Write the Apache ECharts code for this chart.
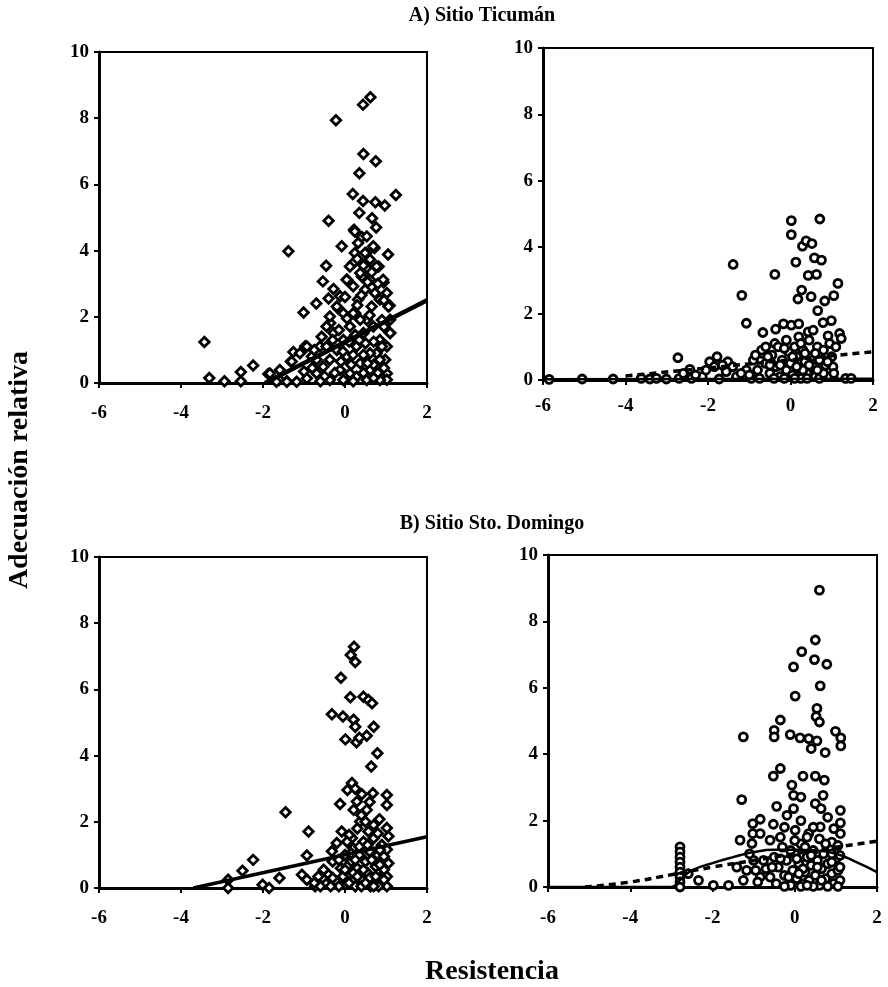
<!DOCTYPE html>
<html>
<head>
<meta charset="utf-8">
<script src="https://cdn.jsdelivr.net/npm/echarts@6/dist/echarts.min.js"></script>
<style>html,body{margin:0;padding:0;background:#fff}#c{width:888px;height:987px}</style>
</head>
<body>
<div id="c"></div>
<script>
// ---- Data ----
const xTicks = [-6, -4, -2, 0, 2];
const yTicks = [0, 2, 4, 6, 8, 10];
const titleA = 'A) Sitio Ticumán';
const titleB = 'B) Sitio Sto. Domingo';
const yName = 'Adecuación relativa';
const xName = 'Resistencia';

// A) Ticumán, left panel (diamonds)
const ticumanDiamonds = [
 [0.62,8.63],[0.44,8.41],[-0.22,7.94],[0.45,6.92],[0.75,6.70],[0.35,6.34],[0.19,5.71],[1.24,5.68],
 [0.44,5.50],[0.74,5.46],[0.97,5.36],[0.35,5.14],[0.66,4.98],[-0.40,4.90],[0.76,4.70],[0.22,4.63],
 [0.41,4.41],[-0.08,4.13],[-1.38,3.98],[1.05,3.88],[0.52,3.93],[0.72,4.08],[0.21,3.63],[0.82,3.52],
 [-0.46,3.54],[0.57,3.42],[0.94,3.04],[-0.54,3.07],[-0.28,2.84],[0.05,3.12],[0.41,3.22],[-0.40,2.55],
 [-0.70,2.40],[1.09,2.34],[-1.01,2.13],[-0.16,2.24],[0.25,2.11],[-0.36,1.81],[1.10,1.51],[-3.43,1.24],
 [-0.97,1.11],[-1.26,0.94],[-2.24,0.53],[-1.32,0.65],[-2.54,0.33],[-3.31,0.15],[-2.94,0.05],[-2.54,0.05],
 [-1.87,0.27],[-1.60,0.10],[-1.42,0.05],
 [-0.93,1.10],[-1.10,0.90],[-1.30,0.65],[-1.59,0.39],[-1.83,0.29],[-0.81,0.80],[-0.61,1.10],[-0.57,1.40],
 [-0.45,1.71],[-0.37,2.01],[-0.20,2.31],[-0.12,2.62],[0.04,3.12],[0.12,3.52],[0.24,3.93],[0.32,4.23],
 [0.24,4.58],[0.53,4.43],[0.69,4.13],[0.49,3.93],[0.77,3.52],[0.93,3.12],[1.02,2.72],[0.85,2.52],
 [1.06,2.31],[1.10,1.91],[1.10,1.51],[1.02,1.10],[0.98,0.70],[1.02,0.29],[1.02,0.10],[0.85,0.09],
 [0.61,3.12],[0.49,2.82],[0.32,2.52],[0.20,2.11],[0.12,1.71],[-0.04,1.30],[-0.20,1.00],[-0.37,0.70],
 [-0.53,0.49],[-0.69,0.29],[-0.93,0.14],[-1.18,0.04],[-1.42,0.04],[-1.67,0.04],[-0.37,0.09],[-0.12,0.39],
 [0.04,0.80],[0.28,1.10],[0.45,1.51],[0.53,1.91],[0.65,2.31],[0.73,2.72],[0.37,0.60],[0.61,0.39],
 [0.28,0.19],[-0.04,0.09],[0.53,0.09],[0.77,0.90],[0.85,1.30],[0.69,1.71],[0.37,3.32],[0.61,3.73],
 [0.20,2.92],[-0.04,2.11],[-0.28,1.51],[-0.45,1.10],[-0.69,0.70],[0.12,0.29],[0.37,1.91],[0.61,0.90],
 [0.85,0.70],[0.15,0.55],[0.45,0.85],[0.70,0.55],[0.25,1.45],[-0.10,0.65],[0.90,1.90],[0.00,2.60],
 [-0.25,0.30],[-0.50,0.20],[-0.80,0.45],[-1.00,0.35],[-0.15,1.60],[0.05,1.95],[0.30,2.35],[0.40,2.65],
 [0.55,3.05],[0.30,3.75],[0.45,3.55],[0.65,3.35],[0.80,3.00],[0.95,2.50],[0.95,1.70],[0.90,1.10],
 [0.70,1.25],[0.50,1.20],[0.20,0.85],[-0.05,0.95],[0.10,1.25],[0.35,1.30],[0.55,0.60],[0.80,0.30],
 [0.20,0.05],[0.45,0.30],[0.70,0.15],[-0.60,0.05],[-0.30,1.30],[-0.75,1.00],[0.95,0.45],[0.60,2.05]
];
const ticumanFit = [[-1.95, 0], [2, 2.5]];

// A) Ticumán, right panel (circles)
const ticumanCircles = [
 [-5.85,0.02],[-5.05,0.03],[-4.30,0.03],[-3.62,0.05],[-3.41,0.03],[-3.25,0.05],[-3.01,0.03],[-2.73,0.67],
 [-2.70,0.05],[-2.44,0.32],[-2.40,0.05],[-2.14,0.10],[-1.96,0.55],[-1.78,0.70],[-1.73,0.03],[-1.52,0.55],
 [-1.56,0.25],[-1.39,3.48],[-1.18,2.55],[-1.07,1.71],[-1.31,0.10],[-1.07,0.30],[-0.95,0.05],[-0.67,1.43],
 [-0.68,0.80],[-0.38,3.18],[-0.36,1.53],[-0.38,1.10],[-0.17,1.69],[0.02,4.80],[0.02,4.38],[0.13,3.55],
 [0.29,4.03],[0.38,4.19],[0.52,4.11],[0.71,4.85],[0.58,3.68],[0.75,3.61],[0.43,3.15],[0.63,3.18],
 [0.27,2.71],[0.18,2.44],[0.50,2.51],[0.66,2.09],[0.79,1.73],[0.83,2.38],[1.05,2.54],[1.15,2.91],
 [0.99,1.79],[0.91,1.33],[1.19,1.40],[1.23,1.25],[0.02,1.65],[0.20,1.69],[0.43,1.45],[1.34,0.05],
 [1.47,0.05],[1.03,0.10],[1.03,0.40],[0.79,0.60],
 [-0.9,0.6],[-0.8,0.3],[-0.7,0.9],[-0.6,0.5],[-0.5,0.2],[-0.45,0.75],[-0.35,0.4],[-0.3,1.0],[-0.25,0.1],
 [-0.2,0.6],[-0.1,0.3],[-0.05,0.85],[0,0.5],[0.05,0.15],[0.1,1.0],[0.15,0.7],[0.2,0.35],[0.25,0.05],
 [0.3,0.9],[0.35,0.55],[0.4,0.2],[0.45,1.2],[0.5,0.7],[0.55,0.4],[0.6,0.1],[0.65,1.0],[0.7,0.6],
 [0.75,0.25],[0.8,0.9],[0.85,0.45],[0.9,0.1],[0.95,1.1],[1.0,0.7],[1.05,0.2],[0.2,1.3],[-0.1,1.2],
 [0.55,1.5],[-0.6,1.0],[-1.2,0.2],[-1.0,0.15],[-0.15,0.05],[0.1,0.05],[0.4,0.05],[0.7,0.05],[-0.4,0.05],
 [-0.75,0.05],[-2.05,0.3],[-1.85,0.4],[-1.65,0.45],[-2.3,0.15],[-2.6,0.2],[-1.4,0.4],
 [-0.85,0.75],[-0.55,0.7],[-0.25,0.45],[0.05,0.7],[0.3,0.3],[0.6,0.8],[0.9,0.55],[0.25,1.1],[-0.15,0.95],
 [0.45,0.45],[0.8,0.2],[0.15,0.4],[-0.5,0.45],[0.65,0.3],[1.1,1.0],[0.35,0.8]
];
const ticumanSolid = [[-6, 0.02], [2, 0.04]];
const ticumanDashed = [[-4, 0.12], [2, 0.85]];

// B) Sto. Domingo, left panel (diamonds)
const domingoDiamonds = [
 [0.22,7.29],[0.14,7.04],[0.25,6.83],[-0.10,6.35],[0.13,5.76],[0.45,5.78],[0.57,5.68],[0.66,5.58],
 [-0.32,5.25],[-0.05,5.18],[0.21,5.08],[0.25,4.87],[0.70,4.87],[0.01,4.49],[0.28,4.40],[0.53,4.60],
 [0.35,4.54],[0.79,4.07],[0.64,3.67],[0.17,3.17],[0.06,2.96],[0.41,2.83],[0.68,2.86],[1.02,2.81],
 [1.02,2.51],[-0.12,2.54],[0.29,2.61],[0.21,2.36],[0.53,2.36],[-1.45,2.29],[0.84,2.08],[-0.89,1.71],
 [-0.08,1.71],[0.37,2.01],[1.02,1.81],[1.06,1.56],[0.57,1.71],[0.17,1.51],[-0.20,1.36],[-0.32,1.11],
 [-0.93,0.98],[-2.24,0.85],[-2.50,0.52],[-2.85,0.25],[-2.85,0.0],[-2.01,0.10],[-1.85,0.0],[-1.60,0.30],
 [-1.05,0.40],[-0.93,0.25],[-0.73,0.05],[-0.48,0.15],[-0.52,0.55],[1.02,1.16],[1.06,0.75],[1.02,0.35],
 [1.02,0.05],[0.62,0.05],[0.82,0.05],
 [-0.4,0.4],[-0.3,0.8],[-0.2,0.2],[-0.1,0.6],[0,1.0],[0,0.1],[0.1,0.4],[0.15,0.8],[0.2,1.2],[0.25,0.05],
 [0.3,0.6],[0.35,1.0],[0.4,0.25],[0.45,1.4],[0.5,0.8],[0.55,0.45],[0.6,1.1],[0.65,0.15],[0.7,1.5],
 [0.75,0.65],[0.8,1.0],[0.85,0.3],[0.9,1.3],[0.95,0.55],[0.1,1.6],[0.3,1.8],[0.5,2.0],[0.7,1.9],
 [-0.6,0.05],[-0.15,0.05],[0.05,1.4],[0.4,0.05],[0.6,0.3],[0.2,0.45],[-0.05,0.35],[0.85,0.7],[-0.55,0.3],
 [-0.75,0.15],
 [-0.65,0.35],[-0.35,0.05],[0.05,0.65],[0.25,0.85],[0.45,0.55],[0.65,0.85],[0.85,1.15],[0.75,0.35],
 [0.35,1.25],[0.15,1.05],[-0.15,0.85],[0.55,1.3],[0.95,0.25],[0.3,0.35],[0.0,0.55],[0.5,0.15],
 [0.4,2.2],[0.6,2.6],[0.25,3.0],[0.8,1.65],[-0.3,0.3],[0.1,0.15],[0.7,0.05],[0.95,0.95]
];
const domingoFit = [[-3.7, 0], [2, 1.55]];

// B) Sto. Domingo, right panel (circles)
const domingoCircles = [
 [0.60,8.94],[0.50,7.44],[0.17,7.09],[0.48,6.85],[0.78,6.71],[-0.03,6.63],[0.62,6.06],[0.01,5.75],
 [0.54,5.38],[0.52,5.13],[0.60,4.97],[-0.35,5.03],[-0.50,4.72],[-0.50,4.52],[-1.25,4.52],[-0.11,4.59],
 [0.13,4.49],[0.34,4.47],[0.54,4.40],[0.40,4.17],[0.74,4.05],[0.99,4.69],[1.12,4.49],[1.12,4.25],
 [-0.35,3.57],[-0.52,3.34],[0.20,3.34],[0.50,3.34],[0.72,3.22],[-1.29,2.63],[-0.07,3.07],[-0.03,2.76],
 [0.15,2.71],[0.69,2.76],[0.50,2.51],[0.64,2.36],[-0.44,2.43],[-0.03,2.36],[1.11,2.31],[-1.02,1.91],
 [-0.84,2.04],[-0.52,1.89],[-0.19,2.16],[1.11,1.93],[1.11,1.61],[0.95,1.76],[-1.02,1.61],[-0.84,1.61],
 [-1.04,1.31],[-1.33,1.41],[-0.60,1.41],[0.01,1.71],[0.34,1.61],[0.62,1.81],
 [-2.79,1.21],[-2.79,1.06],[-2.79,0.90],[-2.79,0.75],[-2.79,0.60],[-2.79,0.45],[-2.79,0.30],[-2.79,0.15],
 [-2.79,0.0],[-2.59,0.40],[-2.34,0.20],[-1.98,0.05],[-1.61,0.05],[-1.41,0.60],[-1.25,0.20],[-1.17,0.50],
 [-1.00,0.80],[-0.84,0.30],[-0.76,0.80],
 [-0.6,0.3],[-0.5,0.9],[-0.45,0.1],[-0.4,0.6],[-0.3,1.2],[-0.25,0.35],[-0.2,0.8],[-0.1,0.05],[-0.05,0.5],
 [0,1.0],[0.05,0.25],[0.1,0.7],[0.15,1.3],[0.2,0.1],[0.25,0.45],[0.3,0.9],[0.35,0.2],[0.4,0.65],
 [0.45,1.1],[0.5,0.35],[0.55,0.8],[0.6,0.05],[0.65,0.55],[0.7,1.0],[0.75,0.25],[0.8,0.7],[0.85,1.2],
 [0.9,0.4],[0.95,0.1],[1.0,0.85],[1.05,0.5],[1.1,0.2],[1.1,0.6],[1.1,0.95],[0.0,1.4],[0.3,1.5],
 [-0.35,1.5],[0.6,1.45],[0.9,1.35],[-0.7,0.55],[-0.9,0.15],[0.15,0.02],[0.45,0.02],[0.8,0.02],
 [-0.25,0.02],[1.05,0.02],
 [-0.15,0.3],[0.2,0.55],[0.55,0.6],[0.9,0.75],[-0.35,0.85],[0.05,0.85],[0.4,0.95],[0.75,1.3],
 [0.25,1.2],[-0.1,1.1],[0.65,0.2],[0.3,0.05],[-0.55,0.6],[-1.1,1.0],[-0.95,0.5],[1.05,1.25],
 [0.45,1.8],[0.15,2.0],[-0.25,1.8],[0.8,2.1],[0.9,1.0],[0.1,0.4]
];
const domingoDashed = [[-5.1,0],[-4,0.15],[-3,0.37],[-2,0.6],[-1,0.8],[0,1.0],[1,1.2],[2,1.38]];
const domingoSolid = [[-6,0],[-3,0],[-2.8,0.2],[-2.5,0.5],[-2,0.72],[-1.5,0.9],[-1,1.05],[-0.5,1.12],
 [0,1.12],[0.5,1.1],[1,1.0],[1.5,0.75],[2,0.45]];

// ---- Chart ----
const FONT = '"Liberation Serif", "Times New Roman", serif';
const grids = [
  {left: 99, right: 461, top: 52, bottom: 604},
  {left: 543, right: 15, top: 48, bottom: 607},
  {left: 99, right: 461, top: 557, bottom: 99},
  {left: 548, right: 11, top: 555, bottom: 100}
].map(g => Object.assign({show: true, borderColor: '#000', borderWidth: 2, backgroundColor: 'transparent'}, g));
const xMargins = [21, 17, 21, 22];

function axisCommon() {
  return {
    axisLine: {show: true, onZero: false, lineStyle: {color: '#000', width: 3}},
    axisTick: {show: true, length: 5, lineStyle: {color: '#000', width: 2}},
    splitLine: {show: false},
    axisLabel: {color: '#000', fontFamily: FONT, fontWeight: 'bold', fontSize: 19}
  };
}
const xAxes = grids.map((g, i) => {
  const a = axisCommon();
  a.axisLabel.margin = xMargins[i];
  return Object.assign(a, {type: 'value', gridIndex: i, min: xTicks[0], max: xTicks[xTicks.length - 1],
    interval: xTicks[1] - xTicks[0]});
});
const yAxes = grids.map((g, i) => {
  const a = axisCommon();
  a.axisLabel.margin = 10;
  return Object.assign(a, {type: 'value', gridIndex: i, min: yTicks[0], max: yTicks[yTicks.length - 1],
    interval: yTicks[1] - yTicks[0]});
});

function scatter(i, data, symbol, size) {
  return {type: 'scatter', xAxisIndex: i, yAxisIndex: i, data: data, symbol: symbol, symbolSize: size,
    itemStyle: {color: '#fff', borderColor: '#000', borderWidth: 2.8, opacity: 1}, z: 2, silent: true};
}
function line(i, data, width, dashed, smooth) {
  return {type: 'line', xAxisIndex: i, yAxisIndex: i, data: data, symbol: 'none', smooth: !!smooth,
    lineStyle: {color: '#000', width: width, type: dashed ? [7, 5] : 'solid'}, z: 3, silent: true, clip: true};
}

const chart = echarts.init(document.getElementById('c'), null, {renderer: 'canvas'});
chart.setOption({
  animation: false,
  backgroundColor: '#fff',
  grid: grids,
  xAxis: xAxes,
  yAxis: yAxes,
  series: [
    scatter(0, ticumanDiamonds, 'diamond', 9.5),
    line(0, ticumanFit, 4.5),
    scatter(1, ticumanCircles, 'circle', 8),
    line(1, ticumanSolid, 2.5),
    line(1, ticumanDashed, 3.5, true),
    scatter(2, domingoDiamonds, 'diamond', 9.5),
    line(2, domingoFit, 3.5),
    scatter(3, domingoCircles, 'circle', 8),
    line(3, domingoDashed, 3.5, true, true),
    line(3, domingoSolid, 2.5, false, true)
  ],
  graphic: [
    {type: 'text', x: 482, y: 16, style: {text: titleA, font: 'bold 20px ' + FONT, fill: '#000', textAlign: 'center', textVerticalAlign: 'middle'}},
    {type: 'text', x: 492, y: 524, style: {text: titleB, font: 'bold 20px ' + FONT, fill: '#000', textAlign: 'center', textVerticalAlign: 'middle'}},
    {type: 'text', x: 492, y: 972, style: {text: xName, font: 'bold 28px ' + FONT, fill: '#000', textAlign: 'center', textVerticalAlign: 'middle'}},
    {type: 'text', x: 20, y: 470, rotation: Math.PI / 2, style: {text: yName, font: 'bold 28px ' + FONT, fill: '#000', textAlign: 'center', textVerticalAlign: 'middle'}}
  ]
});
</script>
</body>
</html>
